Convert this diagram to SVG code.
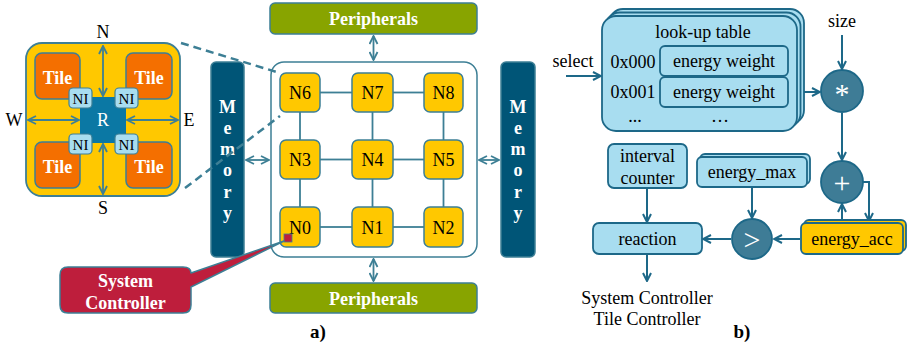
<svg xmlns="http://www.w3.org/2000/svg" width="911" height="346" viewBox="0 0 911 346" font-family="'Liberation Serif', 'DejaVu Serif', serif">
<style>
text{font-family:'Liberation Serif','DejaVu Serif',serif;}
.ln{stroke:#3D7F95;stroke-width:1.8;fill:none;}
.ln2{stroke:#1D6888;stroke-width:2;fill:none;}
.node{fill:#FFC800;stroke:#3D7F95;stroke-width:1.5;}
.nl{font-size:18px;text-anchor:middle;fill:#000;}
.wb{font-weight:bold;fill:#fff;text-anchor:middle;}
.lb{fill:#A8DDF0;stroke:#1D6888;stroke-width:1.8;}
.circ{fill:#3E7C96;stroke:#1D6888;stroke-width:1.8;}
.bt{font-size:18px;text-anchor:middle;fill:#000;}
</style>
<defs>
<marker id="a1" viewBox="0 0 10 10" refX="9" refY="5" markerWidth="10" markerHeight="10" markerUnits="userSpaceOnUse" orient="auto-start-reverse"><path d="M1,1 L9,5 L1,9" fill="none" stroke="#3D7F95" stroke-width="1.8"/></marker>
<marker id="a2" viewBox="0 0 10 10" refX="9" refY="5" markerWidth="10" markerHeight="10" markerUnits="userSpaceOnUse" orient="auto-start-reverse"><path d="M1,1 L9,5 L1,9" fill="none" stroke="#1D6888" stroke-width="2"/></marker>
</defs>

<g id="node-detail">
<rect x="26" y="43" width="154" height="153" rx="16" fill="#FFC800" stroke="#3D7F95" stroke-width="1.8"/>
<rect x="35" y="53" width="45" height="46" rx="7" fill="#F46F00" stroke="#3D7F95" stroke-width="1.5"/>
<rect x="126" y="53" width="46" height="46" rx="7" fill="#F46F00" stroke="#3D7F95" stroke-width="1.5"/>
<rect x="35" y="142" width="45" height="46" rx="7" fill="#F46F00" stroke="#3D7F95" stroke-width="1.5"/>
<rect x="126" y="142" width="46" height="46" rx="7" fill="#F46F00" stroke="#3D7F95" stroke-width="1.5"/>
<text class="wb" x="57.5" y="84" font-size="18">Tile</text>
<text class="wb" x="149" y="84" font-size="18">Tile</text>
<text class="wb" x="57.5" y="173" font-size="18">Tile</text>
<text class="wb" x="149" y="173" font-size="18">Tile</text>
<rect x="80" y="97" width="46" height="46" fill="#0B78A4"/>
<text x="103" y="126" font-size="18" fill="#fff" text-anchor="middle">R</text>
<rect x="69" y="88" width="23" height="20" rx="4" fill="#A8DDF0" stroke="#3D7F95" stroke-width="1.2"/>
<rect x="115" y="88" width="23" height="20" rx="4" fill="#A8DDF0" stroke="#3D7F95" stroke-width="1.2"/>
<rect x="69" y="134" width="23" height="20" rx="4" fill="#A8DDF0" stroke="#3D7F95" stroke-width="1.2"/>
<rect x="115" y="134" width="23" height="20" rx="4" fill="#A8DDF0" stroke="#3D7F95" stroke-width="1.2"/>
<text x="80.5" y="104" font-size="15" text-anchor="middle">NI</text>
<text x="126.5" y="104" font-size="15" text-anchor="middle">NI</text>
<text x="80.5" y="150" font-size="15" text-anchor="middle">NI</text>
<text x="126.5" y="150" font-size="15" text-anchor="middle">NI</text>
<line class="ln" x1="103" y1="46" x2="103" y2="96" marker-start="url(#a1)" marker-end="url(#a1)"/>
<line class="ln" x1="103" y1="144" x2="103" y2="194" marker-start="url(#a1)" marker-end="url(#a1)"/>
<line class="ln" x1="28" y1="120" x2="79" y2="120" marker-start="url(#a1)" marker-end="url(#a1)"/>
<line class="ln" x1="127" y1="120" x2="178" y2="120" marker-start="url(#a1)" marker-end="url(#a1)"/>
<text class="nl" x="103" y="38">N</text>
<text class="nl" x="103" y="214">S</text>
<text class="nl" x="14" y="126">W</text>
<text class="nl" x="189" y="126">E</text>
</g>

<g id="memory-left">
<rect x="211" y="62" width="33" height="195" rx="5" fill="#005577" stroke="#3D7F95" stroke-width="1.5"/>
<g class="wb" font-size="18">
<text x="227.5" y="113">M</text><text x="227.5" y="134">e</text><text x="227.5" y="155">m</text><text x="227.5" y="176">o</text><text x="227.5" y="198">r</text><text x="227.5" y="219">y</text>
</g>
</g>
<g id="memory-right">
<rect x="501" y="62" width="34" height="195" rx="5" fill="#005577" stroke="#3D7F95" stroke-width="1.5"/>
<g class="wb" font-size="18">
<text x="518" y="113">M</text><text x="518" y="134">e</text><text x="518" y="155">m</text><text x="518" y="176">o</text><text x="518" y="198">r</text><text x="518" y="219">y</text>
</g>
</g>

<g id="peripherals-top">
<rect x="270" y="3" width="207" height="31" rx="5" fill="#88A400" stroke="#3D7F95" stroke-width="1.5"/>
<text class="wb" x="373.5" y="25" font-size="18">Peripherals</text>
</g>
<g id="peripherals-bottom">
<rect x="270" y="283" width="207" height="30" rx="5" fill="#88A400" stroke="#3D7F95" stroke-width="1.5"/>
<text class="wb" x="373.5" y="305" font-size="18">Peripherals</text>
</g>

<g id="noc">
<rect x="271" y="62" width="206" height="195" rx="13" fill="#fff" stroke="#3D7F95" stroke-width="1.5"/>
</g>

<g id="connectors">
<g class="ln">
<line x1="320" y1="92.5" x2="352" y2="92.5"/><line x1="393" y1="92.5" x2="424" y2="92.5"/>
<line x1="320" y1="159.5" x2="352" y2="159.5"/><line x1="393" y1="159.5" x2="424" y2="159.5"/>
<line x1="320" y1="227" x2="352" y2="227"/><line x1="393" y1="227" x2="424" y2="227"/>
<line x1="300" y1="112" x2="300" y2="140"/><line x1="300" y1="179" x2="300" y2="207"/>
<line x1="372.5" y1="112" x2="372.5" y2="140"/><line x1="372.5" y1="179" x2="372.5" y2="207"/>
<line x1="443.5" y1="112" x2="443.5" y2="140"/><line x1="443.5" y1="179" x2="443.5" y2="207"/>
</g>
<line class="ln" x1="373.5" y1="36" x2="373.5" y2="60" marker-start="url(#a1)" marker-end="url(#a1)"/>
<line class="ln" x1="373.5" y1="259" x2="373.5" y2="281" marker-start="url(#a1)" marker-end="url(#a1)"/>
<line class="ln" x1="246" y1="160" x2="269" y2="160" marker-start="url(#a1)" marker-end="url(#a1)"/>
<line class="ln" x1="479" y1="160" x2="499" y2="160" marker-start="url(#a1)" marker-end="url(#a1)"/>
<line x1="181" y1="43" x2="280" y2="73" stroke="#3D7F95" stroke-width="2.5" stroke-dasharray="8,5"/>
<line x1="185" y1="188" x2="280" y2="116" stroke="#3D7F95" stroke-width="2.5" stroke-dasharray="8,5"/>

<line class="ln2" x1="566" y1="76" x2="601" y2="76" marker-end="url(#a2)"/>
<line class="ln2" x1="788" y1="92" x2="820" y2="92" marker-end="url(#a2)"/>
<line class="ln2" x1="842" y1="35" x2="842" y2="69" marker-end="url(#a2)"/>
<line class="ln2" x1="842" y1="113" x2="842" y2="160" marker-end="url(#a2)"/>
<line class="ln2" x1="842" y1="222" x2="842" y2="204" marker-end="url(#a2)"/>
<polyline class="ln2" points="863,182 869,182 869,221" marker-end="url(#a2)"/>
<line class="ln2" x1="800" y1="239" x2="774" y2="239" marker-end="url(#a2)"/>
<line class="ln2" x1="731" y1="239" x2="703" y2="239" marker-end="url(#a2)"/>
<line class="ln2" x1="752" y1="187" x2="752" y2="218" marker-end="url(#a2)"/>
<line class="ln2" x1="647" y1="188" x2="647" y2="222" marker-end="url(#a2)"/>
<line class="ln2" x1="647" y1="255" x2="647" y2="281" marker-end="url(#a2)"/>
</g>

<g id="N6"><rect class="node" x="280" y="73" width="40" height="39" rx="6"/><text class="nl" x="300" y="99">N6</text></g>
<g id="N7"><rect class="node" x="352" y="73" width="41" height="39" rx="6"/><text class="nl" x="372.5" y="99">N7</text></g>
<g id="N8"><rect class="node" x="424" y="73" width="39" height="39" rx="6"/><text class="nl" x="443.5" y="99">N8</text></g>
<g id="N3"><rect class="node" x="280" y="140" width="40" height="39" rx="6"/><text class="nl" x="300" y="166">N3</text></g>
<g id="N4"><rect class="node" x="352" y="140" width="41" height="39" rx="6"/><text class="nl" x="372.5" y="166">N4</text></g>
<g id="N5"><rect class="node" x="424" y="140" width="39" height="39" rx="6"/><text class="nl" x="443.5" y="166">N5</text></g>
<g id="N0"><rect class="node" x="280" y="207" width="40" height="40" rx="6"/><text class="nl" x="300" y="234">N0</text><rect x="284" y="234" width="8" height="8" fill="#BE1E3C" stroke="#3D7F95" stroke-width="0.8"/></g>
<g id="N1"><rect class="node" x="352" y="207" width="41" height="40" rx="6"/><text class="nl" x="372.5" y="234">N1</text></g>
<g id="N2"><rect class="node" x="424" y="207" width="39" height="40" rx="6"/><text class="nl" x="443.5" y="234">N2</text></g>

<g id="system-controller-callout">
<path d="M68,267 H183 Q191,267 191,273 L284,241 L191,287 V305 Q191,313 183,313 H68 Q60,313 60,305 V275 Q60,267 68,267 Z" fill="#BE1E3C" stroke="#3D7F95" stroke-width="1.5" stroke-linejoin="round"/>
<text class="wb" x="125.5" y="287" font-size="18">System</text>
<text class="wb" x="125.5" y="309" font-size="18">Controller</text>
</g>

<text x="318" y="338" font-size="19" font-weight="bold" text-anchor="middle">a)</text>

<g id="lookup-table">
<rect class="lb" x="609" y="9" width="195" height="115" rx="14"/>
<rect class="lb" x="605.5" y="12.5" width="195" height="115" rx="14"/>
<rect class="lb" x="602" y="16" width="195" height="115" rx="14"/>
<text class="bt" x="703" y="38">look-up table</text>
<text class="bt" x="633" y="68">0x000</text>
<text class="bt" x="633" y="98">0x001</text>
<rect class="lb" x="660" y="46" width="128" height="30" rx="5"/>
<rect class="lb" x="660" y="77" width="128" height="30" rx="5"/>
<text class="bt" x="724" y="67">energy weight</text>
<text class="bt" x="724" y="98">energy weight</text>
<text class="bt" x="635" y="122">...</text>
<text class="bt" x="720" y="122">…</text>
</g>
<text class="bt" x="573" y="67">select</text>
<text class="bt" x="842" y="27">size</text>

<g id="mult"><circle class="circ" cx="842" cy="91" r="21"/><text x="842" y="104" font-size="30" fill="#fff" text-anchor="middle">*</text></g>
<g id="add"><circle class="circ" cx="842" cy="182" r="21"/><text x="842" y="193" font-size="30" fill="#fff" text-anchor="middle">+</text></g>
<g id="compare"><circle class="circ" cx="752" cy="239" r="20"/><text x="752" y="250" font-size="30" fill="#fff" text-anchor="middle">&gt;</text></g>

<g id="energy-acc">
<rect x="804" y="220" width="102" height="31" rx="5" fill="#FFC800" stroke="#1D6888" stroke-width="1.8"/>
<rect x="801" y="223" width="102" height="31" rx="5" fill="#FFC800" stroke="#1D6888" stroke-width="1.8"/>
<text class="bt" x="852" y="245">energy_acc</text>
</g>
<g id="energy-max">
<rect class="lb" x="700" y="154" width="110" height="30" rx="5"/>
<rect class="lb" x="697" y="157" width="110" height="30" rx="5"/>
<text class="bt" x="752" y="178">energy_max</text>
</g>
<g id="interval-counter">
<rect class="lb" x="608" y="144" width="79" height="44" rx="6"/>
<text class="bt" x="647.5" y="162">interval</text>
<text class="bt" x="647.5" y="184">counter</text>
</g>
<g id="reaction">
<rect class="lb" x="593" y="223" width="109" height="31" rx="6"/>
<text class="bt" x="647.5" y="245">reaction</text>
</g>
<text class="bt" x="647" y="304">System Controller</text>
<text class="bt" x="647" y="325">Tile Controller</text>
<text x="742" y="338" font-size="19" font-weight="bold" text-anchor="middle">b)</text>
</svg>
